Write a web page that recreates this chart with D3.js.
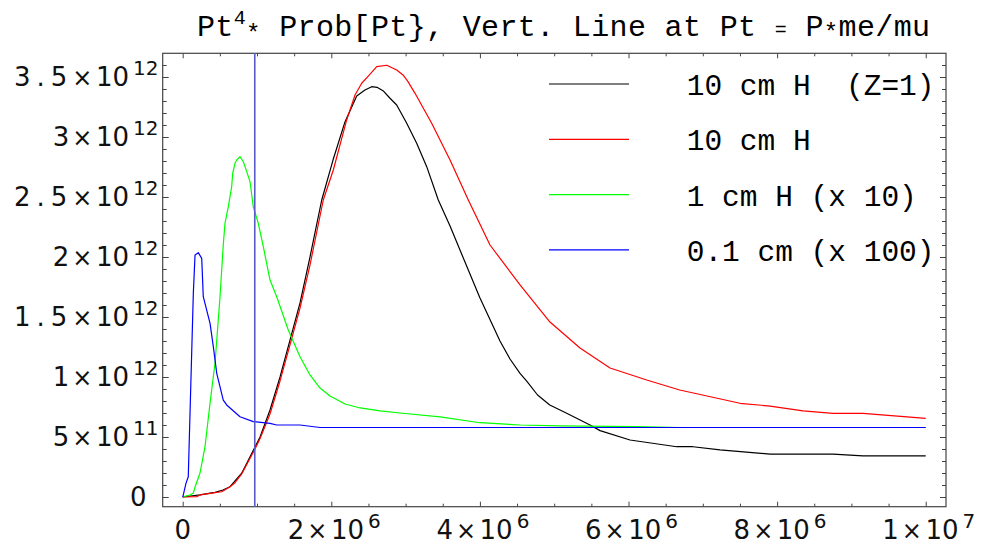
<!DOCTYPE html>
<html><head><meta charset="utf-8">
<script src="https://cdn.jsdelivr.net/npm/d3@7"></script>
<style>body{margin:0;background:#fff}svg{display:block}</style>
</head><body>
<svg id="c" width="981" height="546"></svg>
<script>
// x in units of 1e6, y in units of 1e12
const blackX = [0,0.233,0.435,0.542,0.637,0.794,0.973,1.041,1.175,1.31,1.444,1.579,1.713,1.871,2.023,2.185,2.342,2.453,2.544,2.615,2.696,2.79,2.88,3.015,3.149,3.284,3.44,3.598,3.732,4.001,4.27,4.405,4.54,4.63,4.776,4.94,5.168,5.482,5.617,6.02,6.649,6.868,7.232,7.905,8.752,9.156,10.0];
const blackY = [0,0.017,0.039,0.058,0.086,0.198,0.417,0.5,0.725,1.0,1.308,1.617,2.0,2.475,2.808,3.128,3.342,3.392,3.419,3.414,3.386,3.323,3.267,3.114,2.948,2.753,2.475,2.258,2.058,1.658,1.3,1.15,1.03,0.965,0.85,0.767,0.698,0.6,0.553,0.475,0.419,0.419,0.392,0.358,0.358,0.342,0.342];

const redX = [0,0.188,0.233,0.435,0.525,0.637,0.704,0.794,0.973,1.041,1.175,1.31,1.444,1.579,1.713,1.892,2.027,2.207,2.319,2.409,2.498,2.611,2.746,2.88,2.965,3.032,3.127,3.351,3.598,3.844,4.136,4.54,4.943,5.347,5.751,6.245,6.689,7.5,7.905,8.349,8.752,9.156,10.0];
const redY = [0,0.003,0.017,0.036,0.044,0.086,0.119,0.192,0.4,0.488,0.692,0.967,1.267,1.575,1.933,2.475,2.725,3.142,3.35,3.448,3.508,3.586,3.598,3.558,3.517,3.461,3.364,3.114,2.808,2.475,2.1,1.767,1.458,1.242,1.075,0.975,0.892,0.781,0.758,0.717,0.697,0.697,0.656];

const greenX = [0,0.04,0.098,0.143,0.166,0.233,0.3,0.368,0.435,0.502,0.546,0.569,0.614,0.659,0.673,0.704,0.727,0.771,0.816,0.839,0.906,0.95,1.017,1.085,1.175,1.265,1.421,1.579,1.713,1.848,1.982,2.185,2.387,2.656,2.925,3.463,4.001,4.54,5.079,6.11,6.689,10.0];
const greenY = [0,0.008,0.017,0.033,0.083,0.2,0.417,0.783,1.117,1.667,2.1,2.281,2.419,2.586,2.698,2.781,2.808,2.836,2.794,2.753,2.628,2.419,2.281,2.086,1.808,1.669,1.392,1.169,1.017,0.908,0.842,0.775,0.742,0.717,0.7,0.667,0.619,0.6,0.592,0.586,0.579,0.579];

const blueX = [0,0.008,0.044,0.075,0.143,0.166,0.21,0.256,0.277,0.368,0.412,0.458,0.546,0.592,0.771,0.95,1.175,1.265,1.579,1.848,10.0];
const blueY = [0,0.017,0.114,0.169,1.697,2.017,2.036,1.989,1.669,1.447,1.253,1.031,0.808,0.767,0.669,0.628,0.614,0.6,0.6,0.579,0.579];

const vertLineX = 0.97;

const seriesNames = ["10 cm H  (Z=1)", "10 cm H", "1 cm H (x 10)", "0.1 cm (x 100)"];
const seriesColors = ["#000000", "#ff0000", "#00ff00", "#0000ff"];

const xTickValues = [0,2,4,6,8,10];
const xTickLabels = ["0","2×10^6","4×10^6","6×10^6","8×10^6","1×10^7"];
const yTickValues = [0,0.5,1,1.5,2,2.5,3,3.5];
const yTickLabels = ["0","5×10^11","1×10^12","1.5×10^12","2×10^12","2.5×10^12","3×10^12","3.5×10^12"];
const xMinor = d3.range(0, 10.01, 0.5).filter(v => xTickValues.indexOf(v) < 0);
const yMinor = d3.range(0, 37).map(i => i/10).filter(v => Math.abs(v*2 - Math.round(v*2)) > 1e-6);

const svg = d3.select("#c");
const L = 162.7, R = 946, T = 53.3, B = 506.7;
const x = d3.scaleLinear().domain([-0.2692, 10.273]).range([L, R]);
const y = d3.scaleLinear().domain([-0.0808, 3.6975]).range([B, T]);

const series = [
  {name: seriesNames[0], color: seriesColors[0], xs: blackX, ys: blackY},
  {name: seriesNames[1], color: seriesColors[1], xs: redX, ys: redY},
  {name: seriesNames[2], color: seriesColors[2], xs: greenX, ys: greenY},
  {name: seriesNames[3], color: seriesColors[3], xs: blueX, ys: blueY}
];

const frameColor = "#444";
function styleAxis(g){
  g.select(".domain").remove();
  g.selectAll(".tick line").attr("stroke", frameColor).attr("stroke-width", 1);
  g.selectAll(".tick text").remove();
}
svg.append("g").attr("transform", `translate(0,${B})`).call(d3.axisBottom(x).tickValues(xTickValues).tickSize(-5).tickFormat("")).call(styleAxis);
svg.append("g").attr("transform", `translate(0,${B})`).call(d3.axisBottom(x).tickValues(xMinor).tickSize(-3).tickFormat("")).call(styleAxis);
svg.append("g").attr("transform", `translate(0,${T})`).call(d3.axisTop(x).tickValues(xTickValues).tickSize(-5).tickFormat("")).call(styleAxis);
svg.append("g").attr("transform", `translate(0,${T})`).call(d3.axisTop(x).tickValues(xMinor).tickSize(-3).tickFormat("")).call(styleAxis);
svg.append("g").attr("transform", `translate(${L},0)`).call(d3.axisLeft(y).tickValues(yTickValues).tickSize(-6).tickFormat("")).call(styleAxis);
svg.append("g").attr("transform", `translate(${L},0)`).call(d3.axisLeft(y).tickValues(yMinor).tickSize(-4).tickFormat("")).call(styleAxis);
svg.append("g").attr("transform", `translate(${R},0)`).call(d3.axisRight(y).tickValues(yTickValues).tickSize(-6).tickFormat("")).call(styleAxis);
svg.append("g").attr("transform", `translate(${R},0)`).call(d3.axisRight(y).tickValues(yMinor).tickSize(-4).tickFormat("")).call(styleAxis);

svg.append("rect").attr("x", L).attr("y", T).attr("width", R-L).attr("height", B-T)
  .attr("fill", "none").attr("stroke", frameColor).attr("stroke-width", 1.2);

// tick labels
function writeLabel(t, lab){
  const parts = lab.split("×");
  if (parts.length === 1){
    t.append("tspan").attr("font-size", 26).text(lab);
    return;
  }
  const [base, exp] = parts[1].split("^");
  const multi = parts[0].length > 1;
  t.append("tspan").attr("font-size", 26).attr("letter-spacing", multi ? 6 : 0).text(parts[0]);
  t.append("tspan").attr("font-size", 24).attr("dx", multi ? -1 : 3).attr("letter-spacing", 0).text("×");
  t.append("tspan").attr("font-size", 26).attr("dx", 3.5).text(base);
  t.append("tspan").attr("font-size", 20).attr("dx", 4).attr("dy", -11).text(exp);
}
const lblFont = "DejaVu Sans, sans-serif";
xTickValues.forEach((v, i) => {
  const lab = xTickLabels[i];
  const t = svg.append("text").attr("font-family", lblFont).attr("fill", "#111")
    .attr("text-anchor", "middle").attr("x", x(v) + (lab.indexOf("×") >= 0 ? 3 : 0)).attr("y", 539);
  writeLabel(t, lab);
});
yTickValues.forEach((v, i) => {
  const lab = yTickLabels[i];
  const t = svg.append("text").attr("font-family", lblFont).attr("fill", "#111")
    .attr("text-anchor", "end").attr("x", lab.indexOf("×") >= 0 ? 158.5 : 146.5).attr("y", y(v) + 9);
  writeLabel(t, lab);
});

// data lines
const line = d3.line().x(d => x(d[0])).y(d => y(d[1]));
series.forEach(s => {
  svg.append("path").datum(s.xs.map((v, i) => [v, s.ys[i]]))
    .attr("d", line).attr("fill", "none").attr("stroke", s.color).attr("stroke-width", 1.2)
    .attr("stroke-linejoin", "round");
});

// vertical line
svg.append("line").attr("x1", x(vertLineX)).attr("x2", x(vertLineX)).attr("y1", T).attr("y2", B)
  .attr("stroke", "#5a5acc").attr("stroke-width", 1.6);

// legend
const monoFont = "Liberation Mono, Courier New, monospace";
series.forEach((s, i) => {
  const ly = 84 + i * 55.3;
  svg.append("line").attr("x1", 549).attr("x2", 629).attr("y1", ly).attr("y2", ly)
    .attr("stroke", s.color).attr("stroke-width", 1.2);
  svg.append("text").attr("x", 686.7).attr("y", ly + 11).attr("font-family", monoFont)
    .attr("font-size", 29.5).attr("fill", "#000").style("white-space", "pre").text(s.name);
});

// title
const tt = svg.append("text").attr("x", 197).attr("y", 36).attr("font-family", monoFont)
  .attr("font-size", 30).attr("letter-spacing", 0.35).attr("fill", "#000").style("white-space", "pre");
tt.append("tspan").text("Pt");
tt.append("tspan").attr("font-size", 20).attr("dy", -12).text("4");
tt.append("tspan").attr("font-size", 24).attr("dy", 17).text("*");
tt.append("tspan").attr("dy", -5).text(" Prob[Pt}, Vert. Line at Pt ");
tt.append("tspan").attr("font-size", 20).text("=");
tt.append("tspan").text(" P");
tt.append("tspan").attr("font-size", 24).attr("dy", 4).text("*");
tt.append("tspan").attr("dy", -4).text("me/mu");
</script>
</body></html>
